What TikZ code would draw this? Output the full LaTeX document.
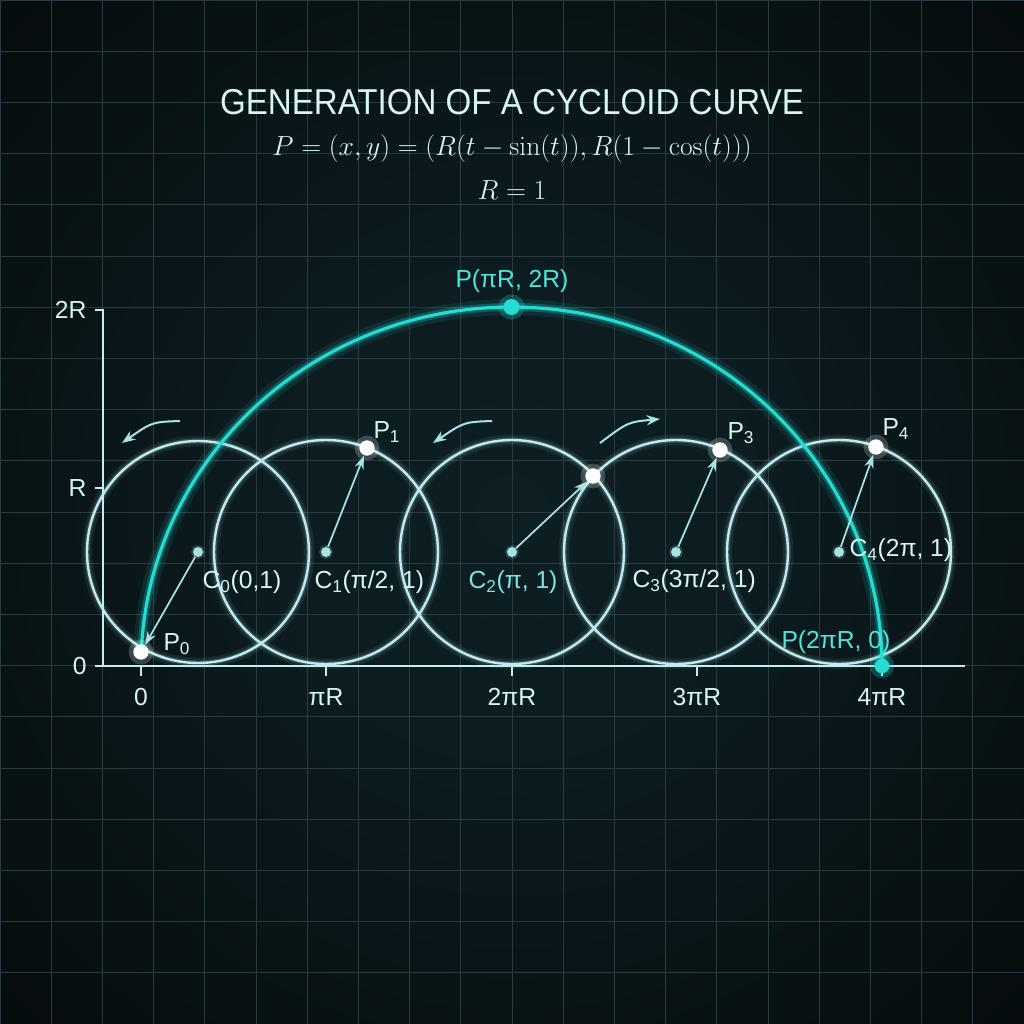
\documentclass[tikz,border=0pt]{standalone}
\usepackage[no-math]{fontspec}
\usepackage{graphicx}
\usetikzlibrary{arrows.meta}
\newfontfamily\lblfont{Liberation Sans}

\definecolor{bgin}{HTML}{0D1F23}
\definecolor{bgout}{HTML}{05090B}
\definecolor{gridc}{HTML}{2A3A3E}
\definecolor{cycc}{HTML}{22DDD4}
\definecolor{ringc}{HTML}{BDEDED}
\definecolor{txtc}{HTML}{D6F5F5}
\definecolor{vecc}{HTML}{A6E4E4}
\definecolor{axisc}{HTML}{C4EEEE}
\pgfdeclareradialshading{bgglow}{\pgfpoint{0bp}{0bp}}{color(0bp)=(bgin); color(12bp)=(bgin!85!bgout); color(40bp)=(bgout); color(100bp)=(bgout)}

\tikzset{every picture/.style={line width=0.75pt}}
\tikzset{
  gridline/.style={draw=gridc, line width=0.7pt},
  axisline/.style={draw=axisc, line width=1.5pt},
  wheel/.style={draw=ringc, line width=1.8pt,
    preaction={draw=ringc, line width=8pt, opacity=0.08},
    preaction={draw=ringc, line width=4pt, opacity=0.18}},
  cycline/.style={draw=cycc, line width=2.4pt,
    preaction={draw=cycc, line width=12pt, opacity=0.10},
    preaction={draw=cycc, line width=6pt, opacity=0.25}},
  vector/.style={draw=vecc, line width=1.3pt, -{Stealth[length=10pt,width=7pt]}},
  spin/.style={draw=vecc, line width=1.5pt, -{Stealth[length=10pt,width=7.5pt]}},
  pdot/.style={circle, fill=white, inner sep=0pt, minimum size=11.5pt,
    preaction={draw=white, line width=7pt, opacity=0.2}},
  cdot/.style={circle, fill=vecc, inner sep=0pt, minimum size=7.5pt,
    preaction={draw=vecc, line width=3pt, opacity=0.2}},
  cydot/.style={circle, fill=cycc, inner sep=0pt, minimum size=12pt,
    preaction={draw=cycc, line width=7pt, opacity=0.25}},
  lbl/.style={text=txtc, inner sep=0pt, font=\lblfont\fontsize{18.5}{22}\selectfont},
  cylbl/.style={lbl, text=cycc!80!white},
}

\begin{document}
\begin{tikzpicture}[x=0.75pt,y=0.75pt,yscale=-1,xscale=1]
\useasboundingbox (0,0) rectangle (1024,1024);

% Background
\shade[shading=bgglow] (0,0) rectangle (1024,1024);
\draw[gridline] (0,0) grid[step=51.2] (1024,1024);

% Title
\node (title) at (512,102) {\color{txtc}\lblfont\fontsize{27}{32}\selectfont\scalebox{0.92}[1]{GENERATION OF A CYCLOID CURVE}};
\node (eqn) at (512,149) {\color{txtc}\fontsize{21.3}{26}\selectfont $P=(x,y)=(R(t-\sin(t)),R(1-\cos(t)))$};
\node (rad) at (512,190) {\color{txtc}\fontsize{20.5}{25}\selectfont $R=1$};

% Axes
\draw[axisline] (95,666) -- (965,666);
\draw[axisline] (95,310) -- (103,310) -- (103,666);
\draw[axisline] (95,488) -- (103,488);
\foreach \tx in {141,326,512,697,882}
  \draw[axisline] (\tx,666) -- (\tx,676);
\node[lbl, anchor=east] (y2) at (87,310) {2R};
\node[lbl, anchor=east] (y1) at (87,488) {R};
\node[lbl, anchor=east] (y0) at (87,666) {0};
\node[lbl] (x0) at (141,697) {0};
\node[lbl] (x1) at (326,697) {πR};
\node[lbl] (x2) at (512,697) {2πR};
\node[lbl] (x3) at (697,697) {3πR};
\node[lbl] (x4) at (882,697) {4πR};

% Centres
\node[cdot] (c0) at (198,552) {};
\node[cdot] (c1) at (326,552) {};
\node[cdot] (c2) at (512,552) {};
\node[cdot] (c3) at (676,552) {};
\node[cdot] (c4) at (839,552) {};

% Rolling circles
\draw[wheel] (c0.center) circle [radius=111];
\draw[wheel] (c1.center) circle [radius=112];
\draw[wheel] (c2.center) circle [radius=112];
\draw[wheel] (c3.center) circle [radius=112];
\draw[wheel] (c4.center) circle [radius=112];

% Cycloid
\draw[cycline] plot[domain=177.8:0, samples=120, smooth] ({511.5+370.5*cos(\x)},{666-359*sin(\x)});

% Points
\node[pdot] (p0) at (141,652) {};
\node[pdot] (p1) at (367,448) {};
\node[pdot] (p2) at (593,476) {};
\node[pdot] (p3) at (720,450) {};
\node[pdot] (p4) at (876,447) {};
\node[cydot] (top) at (511.5,307) {};
\node[cydot, minimum size=11pt] (endpt) at (882,666) {};

% Radius vectors
\draw[vector] (c0) -- (p0);
\draw[vector] (c1) -- (p1);
\draw[vector] (c2) -- (p2);
\draw[vector] (c3) -- (p3);
\draw[vector] (c4) -- (p4);

% Rotation arrows
\coordinate (s0a) at (180,421);
\coordinate (s0b) at (122,443);
\coordinate (s1a) at (492,421);
\coordinate (s1b) at (433,443);
\coordinate (s2a) at (600,443);
\coordinate (s2b) at (660,419);
\draw[spin] (s0a) .. controls (152,422) .. (s0b);
\draw[spin] (s1a) .. controls (464,422) .. (s1b);
\draw[spin] (s2a) .. controls (628,422) .. (s2b);

% Labels
\node[lbl, anchor=west] (lp0) at (163,644) {P\textsubscript{0}};
\node[lbl, anchor=west] (lp1) at (373,432) {P\textsubscript{1}};
\node[lbl, anchor=west] (lp3) at (727,433) {P\textsubscript{3}};
\node[lbl, anchor=west] (lp4) at (882,429) {P\textsubscript{4}};
\node[lbl, anchor=west] (lc0) at (202,582) {C\textsubscript{0}(0,1)};
\node[lbl, anchor=west] (lc1) at (314,582) {C\textsubscript{1}(π/2, 1)};
\node[cylbl, text=vecc!70!cycc, anchor=west] (lc2) at (468,582) {C\textsubscript{2}(π, 1)};
\node[lbl, anchor=west] (lc3) at (632,581) {C\textsubscript{3}(3π/2, 1)};
\node[lbl, anchor=west] (lc4) at (849,550) {C\textsubscript{4}(2π, 1)};
\node[cylbl] (ltop) at (512,281) {P(πR, 2R)};
\node[cylbl, anchor=west] (lend) at (781,642) {P(2πR, 0)};

\end{tikzpicture}
\end{document}
